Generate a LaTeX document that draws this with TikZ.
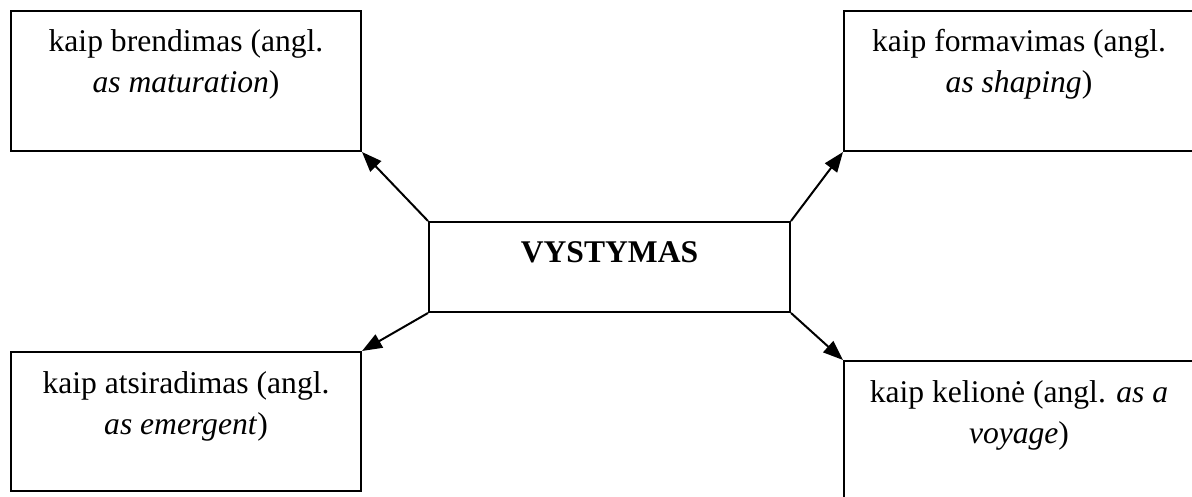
\documentclass[tikz,border=0pt]{standalone}
\usepackage{fontspec}
\setmainfont{Liberation Serif}
\usetikzlibrary{arrows.meta}

% text block hung from the top edge of a box: width, height, lines
\newcommand{\cellbox}[3]{\parbox[t][#2][t]{#1}{\centering\rule{0pt}{41pt}#3}}

\begin{document}
\begin{tikzpicture}[x=1pt, y=-1pt,
  box/.style={draw, line width=2pt, inner sep=0pt, anchor=north west,
    font=\fontsize{31.6}{41}\selectfont},
  link/.style={-{Triangle[length=20pt,width=15pt]}, line width=2pt}]
\useasboundingbox (0,0) rectangle (1192,497);

\node[box] (hub)    at (428,221) {\cellbox{361pt}{90pt}{\textbf{VYSTYMAS}}};
\node[box] (mature) at (10,10)   {\cellbox{350pt}{140pt}{kaip brendimas (angl.\\ \textit{as maturation})}};
\node[box] (shape)  at (843,10)  {\cellbox{350pt}{140pt}{kaip formavimas (angl.\\ \textit{as shaping})}};
\node[box] (emerge) at (10,351)  {\cellbox{350pt}{139pt}{kaip atsiradimas (angl.\\ \textit{as emergent})}};
\node[box] (voyage) at (843,360) {\cellbox{350pt}{140pt}{kaip kelionė (angl. \textit{as a}\\ \textit{voyage})}};

\draw[link] (hub.north west) -- (mature.south east);
\draw[link] (hub.north east) -- (shape.south west);
\draw[link] (hub.south west) -- (emerge.north east);
\draw[link] (hub.south east) -- (voyage.north west);
\end{tikzpicture}
\end{document}
